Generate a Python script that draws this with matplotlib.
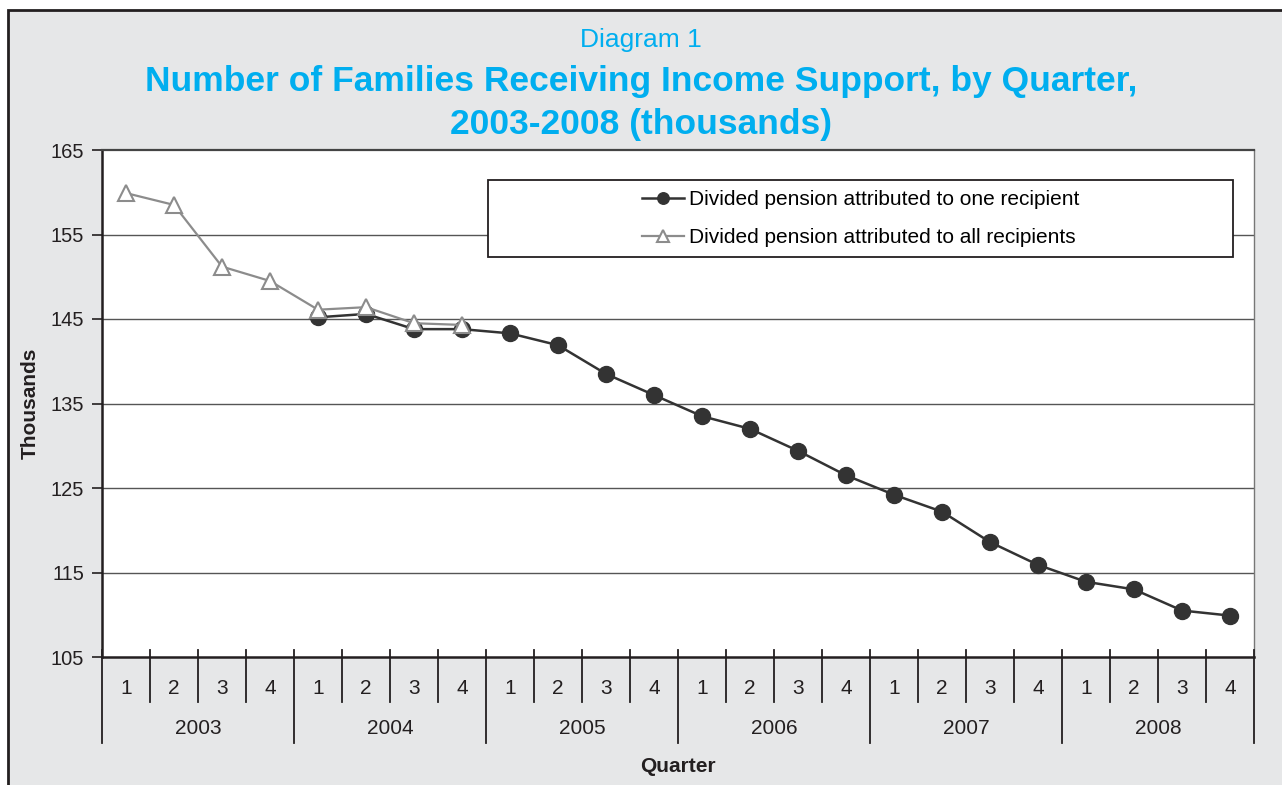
import numpy as np
import matplotlib
matplotlib.use("Agg")
import matplotlib.pyplot as plt
from matplotlib.patches import Rectangle

plt.rcParams['font.family'] = ['Liberation Sans', 'DejaVu Sans']

years = ['2003', '2004', '2005', '2006', '2007', '2008']
quarters = ['1', '2', '3', '4']

# one recipient series starts in 2004 Q1
one_recipient = [np.nan, np.nan, np.nan, np.nan,
                 145.2, 145.6, 143.8, 143.8,
                 143.3, 141.9, 138.5, 136.0,
                 133.5, 132.0, 129.4, 126.5,
                 124.2, 122.2, 118.6, 115.9,
                 113.9, 113.0, 110.5, 109.9]
# all recipients series ends in 2004 Q4
all_recipients = [159.9, 158.5, 151.2, 149.5,
                  146.1, 146.4, 144.5, 144.3]

yticks = [105, 115, 125, 135, 145, 155, 165]

dark = '#333333'
grey = '#8c8c8c'
cyan = '#00aeef'
ink = '#231f20'

fig = plt.figure(figsize=(12.82, 7.85), dpi=100)
fig.patch.set_facecolor('white')
fig.patches.append(Rectangle((8 / 1282, -0.05), 1.1, 1.05 - 10 / 785,
                             transform=fig.transFigure, facecolor='#e6e7e8',
                             edgecolor=ink, lw=2, zorder=-10))

ax = fig.add_axes([102 / 1282, 1 - 657 / 785, 1152 / 1282, 507 / 785])
ax.set_facecolor('white')

n = len(years) * len(quarters)
x = np.arange(n) + 0.5
ax.plot(x, one_recipient, color=dark, lw=1.8, marker='o', ms=11.5,
        mfc=dark, mec=dark, label='Divided pension attributed to one recipient', zorder=4)
ax.plot(x[:len(all_recipients)], all_recipients, color=grey, lw=1.6, marker='^', ms=12,
        mfc='white', mec=grey, mew=1.5,
        label='Divided pension attributed to all recipients', zorder=5)

ax.set_xlim(0, n)
ax.set_ylim(105, 165)
ax.set_yticks(yticks)
ax.tick_params(axis='y', length=7, width=1.2, pad=6, labelsize=14.5, colors=ink)
ax.set_xticks([])
for v in yticks[1:-1]:
    ax.axhline(v, color='#555555', lw=1, zorder=1)

for side in ['left', 'bottom']:
    ax.spines[side].set_linewidth(1.8)
    ax.spines[side].set_color(ink)
ax.spines['top'].set_linewidth(1.6)
ax.spines['top'].set_color('#444444')
ax.spines['right'].set_linewidth(1)
ax.spines['right'].set_color('#777777')

# category axis: quarters and years below the plot
trans = ax.get_xaxis_transform()
px = 1 / 507
for i in range(n + 1):
    bottom = -86 * px if i % 4 == 0 else -45 * px
    ax.plot([i, i], [7 * px, bottom], transform=trans, color=ink, lw=1.3,
            clip_on=False, zorder=6)
for i in range(n):
    ax.text(i + 0.5, -31 * px, quarters[i % 4], transform=trans, ha='center',
            va='center', fontsize=15, color=ink)
for j, yr in enumerate(years):
    ax.text(j * 4 + 2, -71 * px, yr, transform=trans, ha='center', va='center',
            fontsize=15, color=ink)

ax.text(0.5, -109 * px, 'Quarter', transform=ax.transAxes, ha='center', va='center',
        fontsize=15, fontweight='bold', color=ink)
fig.text(30 / 1282, 1 - 403 / 785, 'Thousands', rotation=90, ha='center', va='center',
         fontsize=15, fontweight='bold', color=ink)

# legend box
bx0, bx1 = (488 - 102) / 1152, (1233 - 102) / 1152
by0, by1 = 1 - 107 / 507, 1 - 30 / 507
ax.add_patch(Rectangle((bx0, by0), bx1 - bx0, by1 - by0, transform=ax.transAxes,
                       facecolor='white', edgecolor=ink, lw=1.3, zorder=7))
leg = ax.legend(loc='center', bbox_to_anchor=((bx0 + bx1) / 2, (by0 + by1) / 2),
                frameon=False, fontsize=15, handlelength=2.0, handletextpad=0.25,
                labelspacing=0.9, markerscale=0.72)
leg.set_zorder(8)

fig.text(0.5, 1 - 40 / 785, 'Diagram 1', ha='center', va='center',
         fontsize=19, color=cyan)
fig.text(0.5, 1 - 103 / 785, 'Number of Families Receiving Income Support, by Quarter,\n2003-2008 (thousands)',
         ha='center', va='center', fontsize=25.5, fontweight='bold', color=cyan,
         linespacing=1.41)

fig.savefig('out.png', dpi=100)
